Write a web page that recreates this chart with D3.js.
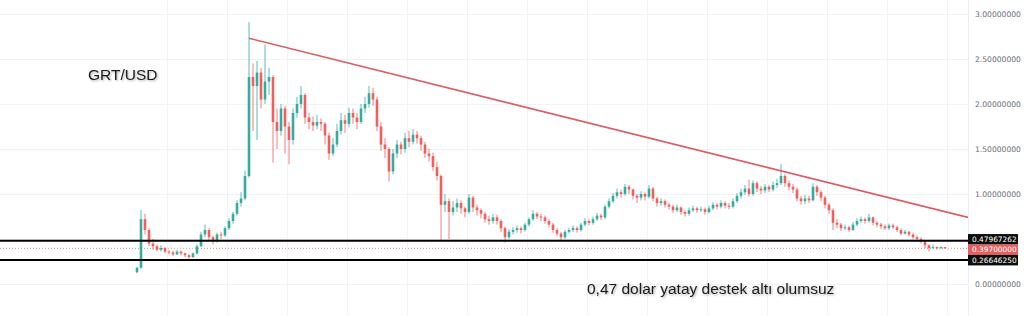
<!DOCTYPE html>
<html>
<head>
<meta charset="utf-8">
<script src="https://cdn.jsdelivr.net/npm/d3@7"></script>
<style>
  body { margin: 0; background: #fff; }
  svg { display: block; font-family: "Liberation Sans", Arial, sans-serif; }
</style>
</head>
<body>
<script>
// daily-ish candles, open = previous close
const firstOpen = 0.13
const closes = [
  0.18, 0.72, 0.60, 0.45, 0.42, 0.38, 0.40, 0.36, 0.35, 0.33,
  0.36, 0.34, 0.32, 0.30, 0.34, 0.42, 0.55, 0.60, 0.52, 0.48,
  0.55, 0.54, 0.62, 0.70, 0.78, 0.90, 0.95, 1.20, 2.30, 2.20,
  2.35, 2.05, 2.25, 2.30, 1.80, 1.70, 1.95, 1.75, 1.60, 1.90,
  2.00, 2.10, 1.85, 1.80, 1.76, 1.80, 1.78, 1.65, 1.45, 1.55,
  1.70, 1.82, 1.78, 1.90, 1.85, 1.80, 1.95, 2.00, 2.12, 2.05,
  1.75, 1.55, 1.50, 1.25, 1.45, 1.55, 1.50, 1.62, 1.58, 1.66,
  1.62, 1.55, 1.45, 1.42, 1.30, 1.20, 0.88, 0.92, 0.80, 0.85,
  0.90, 0.84, 0.80, 0.96, 0.85, 0.82, 0.78, 0.72, 0.70, 0.74,
  0.70, 0.62, 0.52, 0.58, 0.60, 0.62, 0.60, 0.66, 0.72, 0.78,
  0.75, 0.74, 0.70, 0.66, 0.60, 0.56, 0.52, 0.58, 0.60, 0.62,
  0.60, 0.66, 0.70, 0.68, 0.72, 0.76, 0.74, 0.86, 0.92, 0.98,
  1.02, 1.00, 1.08, 1.05, 0.98, 0.96, 1.00, 0.97, 1.06, 0.95,
  0.90, 0.92, 0.88, 0.86, 0.82, 0.85, 0.80, 0.78, 0.82, 0.84,
  0.82, 0.83, 0.80, 0.84, 0.88, 0.86, 0.90, 0.87, 0.86, 0.92,
  0.98, 1.02, 1.06, 1.00, 1.12, 1.06, 1.04, 1.08, 1.05, 1.10,
  1.12, 1.20, 1.12, 1.08, 1.05, 0.95, 0.92, 0.95, 0.93, 1.08,
  1.02, 0.96, 0.88, 0.82, 0.68, 0.66, 0.62, 0.63, 0.60, 0.66,
  0.70, 0.72, 0.70, 0.74, 0.68, 0.66, 0.64, 0.62, 0.65, 0.63,
  0.60, 0.56, 0.58, 0.55, 0.52, 0.50, 0.47, 0.43, 0.40, 0.41,
  0.40, 0.41, 0.397
]
const highs = [
  0.19, 0.82, 0.78, 0.62, 0.50, 0.44, 0.43, 0.41, 0.38, 0.37,
  0.38, 0.37, 0.35, 0.33, 0.35, 0.44, 0.58, 0.66, 0.62, 0.54,
  0.57, 0.58, 0.64, 0.73, 0.80, 0.93, 1.02, 1.26, 2.91, 2.45,
  2.48, 2.40, 2.66, 2.40, 2.32, 1.95, 2.00, 1.98, 1.80, 1.95,
  2.08, 2.20, 2.12, 1.90, 1.86, 1.88, 1.84, 1.80, 1.68, 1.62,
  1.78, 1.90, 1.88, 1.96, 1.95, 1.90, 2.00, 2.08, 2.20, 2.18,
  2.08, 1.80, 1.62, 1.52, 1.50, 1.60, 1.58, 1.68, 1.70, 1.72,
  1.70, 1.65, 1.58, 1.50, 1.46, 1.36, 1.22, 1.00, 0.95, 0.92,
  0.95, 0.93, 0.86, 1.00, 0.98, 0.88, 0.84, 0.80, 0.76, 0.78,
  0.77, 0.72, 0.64, 0.61, 0.63, 0.65, 0.64, 0.68, 0.74, 0.82,
  0.80, 0.78, 0.76, 0.72, 0.68, 0.62, 0.58, 0.60, 0.62, 0.65,
  0.64, 0.68, 0.73, 0.72, 0.75, 0.79, 0.78, 0.88, 0.95, 1.01,
  1.06, 1.05, 1.11, 1.10, 1.06, 1.00, 1.03, 1.02, 1.10, 1.08,
  0.97, 0.95, 0.94, 0.90, 0.88, 0.88, 0.86, 0.82, 0.85, 0.87,
  0.86, 0.86, 0.85, 0.87, 0.91, 0.90, 0.93, 0.92, 0.90, 0.95,
  1.01, 1.06, 1.10, 1.16, 1.15, 1.14, 1.09, 1.11, 1.10, 1.14,
  1.17, 1.33, 1.22, 1.15, 1.11, 1.07, 0.98, 0.99, 0.98, 1.12,
  1.10, 1.04, 0.98, 0.90, 0.84, 0.72, 0.68, 0.66, 0.65, 0.69,
  0.73, 0.75, 0.74, 0.78, 0.75, 0.70, 0.68, 0.66, 0.67, 0.67,
  0.65, 0.62, 0.60, 0.59, 0.57, 0.54, 0.52, 0.48, 0.44, 0.44,
  0.42, 0.42, 0.41
]
const lows = [
  0.12, 0.17, 0.55, 0.42, 0.38, 0.36, 0.36, 0.34, 0.33, 0.31,
  0.32, 0.32, 0.30, 0.28, 0.29, 0.33, 0.41, 0.52, 0.49, 0.44,
  0.46, 0.50, 0.52, 0.60, 0.67, 0.76, 0.86, 0.93, 1.18, 1.70,
  1.60, 1.95, 2.00, 2.10, 1.35, 1.50, 1.65, 1.45, 1.33, 1.55,
  1.85, 1.95, 1.78, 1.72, 1.70, 1.72, 1.70, 1.55, 1.38, 1.42,
  1.52, 1.66, 1.68, 1.74, 1.78, 1.72, 1.78, 1.90, 1.96, 1.98,
  1.70, 1.48, 1.40, 1.14, 1.22, 1.40, 1.44, 1.46, 1.52, 1.55,
  1.56, 1.48, 1.40, 1.36, 1.26, 1.15, 0.48, 0.80, 0.50, 0.76,
  0.80, 0.78, 0.74, 0.78, 0.80, 0.76, 0.73, 0.68, 0.66, 0.67,
  0.66, 0.58, 0.46, 0.50, 0.55, 0.57, 0.56, 0.58, 0.64, 0.70,
  0.72, 0.70, 0.67, 0.63, 0.57, 0.53, 0.48, 0.50, 0.56, 0.58,
  0.57, 0.58, 0.64, 0.65, 0.66, 0.70, 0.71, 0.72, 0.84, 0.90,
  0.95, 0.96, 0.98, 1.00, 0.94, 0.90, 0.93, 0.93, 0.95, 0.92,
  0.86, 0.87, 0.85, 0.83, 0.79, 0.80, 0.77, 0.75, 0.76, 0.80,
  0.79, 0.80, 0.77, 0.78, 0.82, 0.83, 0.84, 0.84, 0.83, 0.84,
  0.90, 0.95, 0.99, 0.97, 0.98, 1.02, 1.00, 1.01, 1.02, 1.03,
  1.07, 1.10, 1.08, 1.04, 1.01, 0.92, 0.88, 0.89, 0.90, 0.92,
  0.98, 0.92, 0.84, 0.78, 0.60, 0.62, 0.59, 0.60, 0.58, 0.59,
  0.64, 0.68, 0.67, 0.68, 0.65, 0.63, 0.61, 0.60, 0.60, 0.61,
  0.58, 0.54, 0.55, 0.53, 0.50, 0.48, 0.45, 0.40, 0.36, 0.39,
  0.38, 0.39, 0.39
]

const yTicks = [0, 0.5, 1, 1.5, 2, 2.5, 3]
// levels drawn on the chart
const supportLevels = [0.47967262, 0.2664625]
const lastPrice = 0.397
// falling resistance line: [candle index, price]
const trendLine = [[28, 2.73], [207.75, 0.74]]
// vertical grid (candle index)
const vGrid = [7.5, 22.5, 37.5, 52.5, 67.5, 82.5, 97.5, 112.5, 127.5, 142.5, 157.5, 172.5, 187.5, 202.5]

const W = 1024, H = 316
const plotRight = 968

const GREEN = '#26a69a'
const RED = '#ef5350'

const candles = closes.map((c, i) => ({
    i,
    open: i === 0 ? firstOpen : closes[i - 1],
    close: c,
    high: highs[i],
    low: lows[i]
}))

const x = d3.scaleLinear().domain([0, closes.length - 1]).range([137, 945])
const y = d3.scaleLinear().domain([0, 3]).range([284, 14])

const svg = d3.select('body').append('svg')
    .attr('width', W)
    .attr('height', H)

const defs = svg.append('defs')
defs.append('clipPath').attr('id', 'plot')
    .append('rect').attr('width', plotRight).attr('height', H)
const f = defs.append('filter').attr('id', 'shadow')
    .attr('x', '-10%').attr('y', '-30%').attr('width', '120%').attr('height', '160%')
f.append('feDropShadow')
    .attr('dx', 1).attr('dy', 1).attr('stdDeviation', 1.2)
    .attr('flood-color', '#000').attr('flood-opacity', 0.35)

// grid
const grid = svg.append('g').attr('clip-path', 'url(#plot)')
grid.selectAll('line.h')
    .data(yTicks)
    .join('line')
    .attr('class', 'h')
    .attr('x1', 0).attr('x2', plotRight)
    .attr('y1', d => Math.round(y(d)) + 0.5).attr('y2', d => Math.round(y(d)) + 0.5)
    .attr('stroke', '#f1f3f6')
grid.selectAll('line.v')
    .data(vGrid)
    .join('line')
    .attr('class', 'v')
    .attr('y1', 0).attr('y2', H)
    .attr('x1', d => Math.round(x(d)) + 0.5).attr('x2', d => Math.round(x(d)) + 0.5)
    .attr('stroke', '#f1f3f6')

// axis panel separator
svg.append('line')
    .attr('x1', plotRight + 0.5).attr('x2', plotRight + 0.5)
    .attr('y1', 0).attr('y2', H)
    .attr('stroke', '#eceef1')

const plot = svg.append('g').attr('clip-path', 'url(#plot)')

// last price dotted line
plot.append('line')
    .attr('x1', 0).attr('x2', plotRight)
    .attr('y1', y(lastPrice)).attr('y2', y(lastPrice))
    .attr('stroke', '#e08a8a')
    .attr('stroke-width', 1)
    .attr('stroke-dasharray', '1 2')

// candles
const cg = plot.append('g')
const bodyW = 2.6
cg.selectAll('line.wick')
    .data(candles)
    .join('line')
    .attr('class', 'wick')
    .attr('x1', d => x(d.i)).attr('x2', d => x(d.i))
    .attr('y1', d => y(d.high)).attr('y2', d => y(d.low))
    .attr('stroke', d => d.close >= d.open ? GREEN : RED)
    .attr('stroke-opacity', 0.75)
    .attr('stroke-width', 1)
cg.selectAll('rect.body')
    .data(candles)
    .join('rect')
    .attr('class', 'body')
    .attr('x', d => x(d.i) - bodyW / 2)
    .attr('width', bodyW)
    .attr('y', d => y(Math.max(d.open, d.close)))
    .attr('height', d => Math.max(1, Math.abs(y(d.open) - y(d.close))))
    .attr('fill', d => d.close >= d.open ? GREEN : RED)
    .attr('fill-opacity', 0.9)

// support lines
plot.selectAll('line.support')
    .data(supportLevels)
    .join('line')
    .attr('class', 'support')
    .attr('x1', 0).attr('x2', plotRight)
    .attr('y1', d => y(d)).attr('y2', d => y(d))
    .attr('stroke', '#000')
    .attr('stroke-width', 2)

// trend line
plot.append('path')
    .attr('d', d3.line().x(d => x(d[0])).y(d => y(d[1]))(trendLine))
    .attr('fill', 'none')
    .attr('stroke', '#de5a66')
    .attr('stroke-width', 1.6)

// price tags, stacked so they don't overlap (like the TradingView scale)
const tagH = 10.5
const tags = [
    { v: supportLevels[0], bg: '#0d0d0d', text: '0.47967262' },
    { v: lastPrice, bg: '#e3605e', text: '0.39700000' },
    { v: supportLevels[1], bg: '#0d0d0d', text: '0.26646250' }
]
tags.forEach(t => { t.cy = y(t.v) })
for (let k = 1; k < tags.length; k++) {
    const gap = tags[k].cy - tags[k - 1].cy
    if (gap < tagH) {
        const shift = tagH - gap
        tags[k - 1].cy -= shift / 2
        tags[k].cy += shift / 2
    }
}

// right axis: labels hidden under a price tag are dropped
const axis = svg.append('g')
    .attr('transform', `translate(${plotRight},0)`)
    .call(d3.axisRight(y).tickValues(yTicks).tickFormat(d3.format('.8f')).tickSize(0).tickPadding(7))
axis.select('.domain').remove()
axis.selectAll('.tick')
    .filter(d => tags.some(t => Math.abs(t.cy - y(d)) < tagH))
    .remove()
axis.selectAll('text')
    .attr('fill', '#6a6d78')
    .attr('font-family', '"DejaVu Sans", sans-serif')
    .attr('font-size', 7.6)

const tg = svg.append('g').selectAll('g')
    .data(tags)
    .join('g')
    .attr('transform', d => `translate(${plotRight},${d.cy})`)
tg.append('rect')
    .attr('x', 0).attr('y', -tagH / 2)
    .attr('width', 50).attr('height', tagH)
    .attr('fill', d => d.bg)
tg.append('text')
    .attr('x', 4).attr('y', 2.7)
    .attr('fill', '#fff')
    .attr('font-size', 7.4)
    .attr('font-family', '"DejaVu Sans", sans-serif')
    .text(d => d.text)

// annotations
svg.append('text')
    .attr('x', 88).attr('y', 80)
    .attr('font-size', 15.5)
    .attr('fill', '#1c1c1c')
    .attr('filter', 'url(#shadow)')
    .text('GRT/USD')
svg.append('text')
    .attr('x', 587).attr('y', 294)
    .attr('font-size', 15.5)
    .attr('fill', '#1c1c1c')
    .attr('filter', 'url(#shadow)')
    .text('0,47 dolar yatay destek altı olumsuz')
</script>
</body>
</html>
